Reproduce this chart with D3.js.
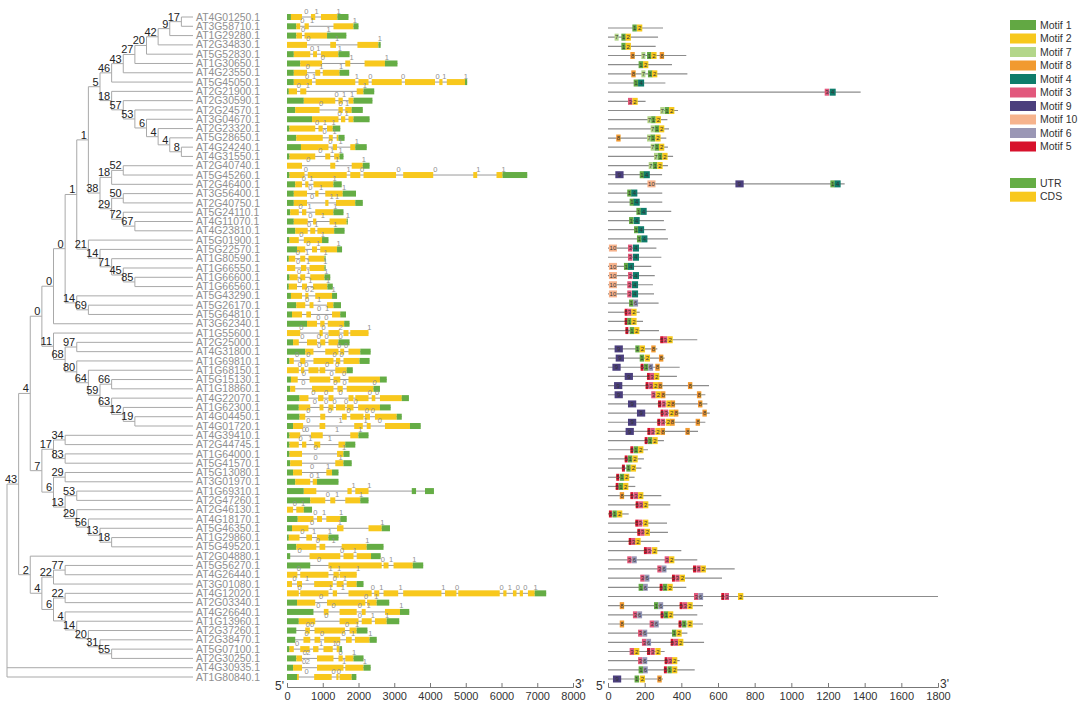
<!DOCTYPE html>
<html><head><meta charset="utf-8">
<script src="https://cdn.jsdelivr.net/npm/d3@7"></script>
<style>body{margin:0;background:#fff}svg{display:block}text{font-family:Arial,"Liberation Sans",sans-serif}</style>
</head><body><svg id="c" width="1080" height="717"></svg>
<script>
// ---------- DATA ----------
const geneIds = ["AT4G01250.1","AT3G58710.1","AT1G29280.1","AT2G34830.1","AT5G52830.1","AT1G30650.1","AT4G23550.1","AT5G45050.1","AT2G21900.1","AT2G30590.1","AT2G24570.1","AT3G04670.1","AT2G23320.1","AT5G28650.1","AT4G24240.1","AT4G31550.1","AT2G40740.1","AT5G45260.1","AT2G46400.1","AT3G56400.1","AT2G40750.1","AT5G24110.1","AT4G11070.1","AT4G23810.1","AT5G01900.1","AT5G22570.1","AT1G80590.1","AT1G66550.1","AT1G66600.1","AT1G66560.1","AT5G43290.1","AT5G26170.1","AT5G64810.1","AT3G62340.1","AT1G55600.1","AT2G25000.1","AT4G31800.1","AT1G69810.1","AT1G68150.1","AT5G15130.1","AT1G18860.1","AT4G22070.1","AT1G62300.1","AT4G04450.1","AT4G01720.1","AT4G39410.1","AT2G44745.1","AT1G64000.1","AT5G41570.1","AT5G13080.1","AT3G01970.1","AT1G69310.1","AT2G47260.1","AT2G46130.1","AT4G18170.1","AT5G46350.1","AT1G29860.1","AT5G49520.1","AT2G04880.1","AT5G56270.1","AT4G26440.1","AT3G01080.1","AT4G12020.1","AT2G03340.1","AT4G26640.1","AT1G13960.1","AT2G37260.1","AT2G38470.1","AT5G07100.1","AT2G30250.1","AT4G30935.1","AT1G80840.1"];

// internal nodes: [id, bootstrap, children]
const treeNodes = [
 ["n17","17",["AT4G01250.1","AT3G58710.1"]],
 ["n9","9",["n17","AT1G29280.1"]],
 ["n42","42",["n9","AT2G34830.1"]],
 ["n20","20",["n42","AT5G52830.1"]],
 ["n27","27",["n20","AT1G30650.1"]],
 ["n43b","43",["n27","AT4G23550.1"]],
 ["n46","46",["n43b","AT5G45050.1"]],
 ["n8","8",["AT4G24240.1","AT4G31550.1"]],
 ["n4b","4",["AT5G28650.1","n8"]],
 ["n4a","4",["AT2G23320.1","n4b"]],
 ["n6","6",["AT3G04670.1","n4a"]],
 ["n53","53",["AT2G24570.1","n6"]],
 ["n57","57",["AT2G30590.1","n53"]],
 ["n18a","18",["AT2G21900.1","n57"]],
 ["n5","5",["n46","n18a"]],
 ["n52","52",["AT2G40740.1","AT5G45260.1"]],
 ["n18b","18",["n52","AT2G46400.1"]],
 ["n50","50",["AT3G56400.1","AT2G40750.1"]],
 ["n67","67",["AT4G11070.1","AT4G23810.1"]],
 ["n72","72",["AT5G24110.1","n67"]],
 ["n29","29",["n50","n72"]],
 ["n38","38",["n18b","n29"]],
 ["n1a","1",["n5","n38"]],
 ["n85","85",["AT1G66600.1","AT1G66560.1"]],
 ["n45","45",["AT1G66550.1","n85"]],
 ["n71","71",["AT1G80590.1","n45"]],
 ["n14d","14",["AT5G22570.1","n71"]],
 ["n21","21",["AT5G01900.1","n14d"]],
 ["n1b","1",["n1a","n21"]],
 ["n69","69",["AT5G26170.1","AT5G64810.1"]],
 ["n14c","14",["AT5G43290.1","n69"]],
 ["n0c","0",["n1b","n14c"]],
 ["n0b","0",["n0c","AT3G62340.1"]],
 ["n97","97",["AT2G25000.1","AT4G31800.1"]],
 ["n19","19",["AT4G04450.1","AT4G01720.1"]],
 ["n12","12",["AT1G62300.1","n19"]],
 ["n63","63",["AT4G22070.1","n12"]],
 ["n66","66",["AT5G15130.1","AT1G18860.1"]],
 ["n59","59",["n66","n63"]],
 ["n64","64",["AT1G68150.1","n59"]],
 ["n80","80",["AT1G69810.1","n64"]],
 ["n68","68",["n97","n80"]],
 ["n11","11",["AT1G55600.1","n68"]],
 ["n0a","0",["n0b","n11"]],
 ["n34","34",["AT4G39410.1","AT2G44745.1"]],
 ["n83","83",["AT1G64000.1","AT5G41570.1"]],
 ["n17b","17",["n34","n83"]],
 ["n29b","29",["AT5G13080.1","AT3G01970.1"]],
 ["n53b","53",["AT1G69310.1","AT2G47260.1"]],
 ["n18c","18",["AT1G29860.1","AT5G49520.1"]],
 ["n13c","13",["AT5G46350.1","n18c"]],
 ["n56","56",["AT4G18170.1","n13c"]],
 ["n29c","29",["AT2G46130.1","n56"]],
 ["n13b","13",["n53b","n29c"]],
 ["n6b","6",["n29b","n13b"]],
 ["n7","7",["n17b","n6b"]],
 ["n4","4",["n0a","n7"]],
 ["n77","77",["AT5G56270.1","AT4G26440.1"]],
 ["n22a","22",["n77","AT3G01080.1"]],
 ["n22b","22",["AT4G12020.1","AT2G03340.1"]],
 ["n55","55",["AT5G07100.1","AT2G30250.1"]],
 ["n31","31",["AT2G38470.1","n55"]],
 ["n20b","20",["AT2G37260.1","n31"]],
 ["n14e","14",["AT1G13960.1","n20b"]],
 ["n4d","4",["AT4G26640.1","n14e"]],
 ["n6c","6",["n22b","n4d"]],
 ["n4c","4",["n22a","n6c"]],
 ["n2","2",["AT2G04880.1","n4c"]],
 ["n43","43",["n4","n2"]],
 ["root","",["n43","AT4G30935.1","AT1G80840.1"]]
];

// gene structure segments [start bp, end bp, kind] (U = UTR, C = CDS)
const geneSegments = [
 [[0,110,"U"],[110,420,"C"],[670,790,"C"],[950,1410,"C"],[1410,1720,"U"]],
 [[0,260,"U"],[260,370,"C"],[490,610,"C"],[1300,1860,"C"],[1860,2000,"U"]],
 [[0,260,"U"],[260,420,"C"],[490,1120,"C"],[1120,1660,"U"]],
 [[0,560,"C"],[1210,1370,"C"],[1970,2560,"C"],[2560,2620,"U"]],
 [[0,190,"U"],[190,650,"C"],[730,840,"C"],[950,1440,"C"],[1440,1750,"U"]],
 [[0,370,"U"],[370,980,"C"],[1630,1770,"C"],[2170,2740,"C"],[2740,3090,"U"]],
 [[0,190,"U"],[190,560,"C"],[790,930,"C"],[1000,1470,"C"],[1470,1740,"U"]],
 [[0,190,"U"],[190,700,"C"],[800,1910,"C"],[2000,2280,"C"],[2370,3210,"C"],[3300,4140,"C"],[4260,4350,"C"],[4470,4980,"C"],[4980,5040,"U"]],
 [[0,50,"U"],[50,280,"C"],[370,540,"C"],[1950,2140,"C"],[2140,2440,"U"]],
 [[0,470,"U"],[470,1350,"C"],[1440,1560,"C"],[1720,1860,"C"],[1860,2390,"U"]],
 [[0,230,"U"],[230,910,"C"],[1440,1560,"C"],[1630,1810,"C"],[1810,2120,"U"]],
 [[0,700,"U"],[700,1440,"C"],[1510,1630,"C"],[1720,1860,"C"],[1860,2310,"U"]],
 [[0,70,"U"],[70,790,"C"],[880,1000,"C"],[1120,1280,"C"],[1280,1490,"U"]],
 [[0,260,"U"],[260,1000,"C"],[1170,1280,"C"],[1390,1440,"C"],[1440,1610,"U"]],
 [[0,390,"U"],[390,1160,"C"],[1280,1400,"C"],[1770,1910,"C"],[1910,2230,"U"]],
 [[0,70,"U"],[70,790,"C"],[1070,1210,"C"],[1320,1470,"C"],[1470,1580,"U"]],
 [[0,420,"C"],[1210,1350,"C"],[1810,2120,"C"],[2120,2310,"U"]],
 [[0,70,"U"],[70,490,"C"],[580,1670,"C"],[1770,2050,"C"],[2140,3050,"C"],[3250,4090,"C"],[5210,5320,"C"],[5860,6030,"C"],[6030,6720,"U"]],
 [[0,230,"U"],[230,420,"C"],[510,600,"C"],[740,1300,"C"],[1300,1530,"U"]],
 [[0,190,"U"],[190,560,"C"],[790,880,"C"],[1070,1560,"C"],[1560,1930,"U"]],
 [[0,190,"U"],[190,560,"C"],[1070,1160,"C"],[1370,1910,"C"],[1910,2120,"U"]],
 [[0,90,"U"],[90,330,"C"],[420,540,"C"],[790,1300,"C"],[1300,1580,"U"]],
 [[0,190,"U"],[190,580,"C"],[730,820,"C"],[1190,1670,"C"],[1670,1700,"U"]],
 [[0,230,"U"],[230,580,"C"],[650,790,"C"],[850,1320,"C"],[1320,1610,"U"]],
 [[0,70,"U"],[70,330,"C"],[470,980,"C"],[980,1160,"U"]],
 [[0,280,"U"],[280,510,"C"],[700,840,"C"],[930,1400,"C"],[1400,1540,"U"]],
 [[0,50,"U"],[50,230,"C"],[370,510,"C"],[600,1050,"C"],[1050,1080,"U"]],
 [[0,230,"C"],[390,540,"C"],[630,1050,"C"],[1050,1080,"U"]],
 [[0,70,"U"],[70,300,"C"],[370,510,"C"],[650,1050,"C"],[1050,1210,"U"]],
 [[0,50,"U"],[50,280,"C"],[420,560,"C"],[730,1130,"C"],[1130,1280,"U"]],
 [[0,110,"U"],[110,420,"C"],[510,600,"C"],[790,1260,"C"],[1260,1400,"U"]],
 [[0,260,"U"],[260,510,"C"],[630,740,"C"],[1120,1300,"C"],[1300,1510,"U"]],
 [[0,140,"U"],[140,420,"C"],[540,670,"C"],[1260,1490,"C"],[1490,1650,"U"]],
 [[0,560,"U"],[560,840,"C"],[930,1050,"C"],[1140,1600,"C"],[1600,1750,"U"]],
 [[0,370,"C"],[910,1000,"C"],[1160,1470,"C"],[1580,1720,"C"],[1770,2280,"C"]],
 [[0,170,"U"],[170,330,"C"],[560,840,"C"],[930,1070,"C"],[1160,1440,"C"],[1440,1750,"U"]],
 [[0,510,"U"],[510,740,"C"],[1070,1440,"C"],[1490,1600,"C"],[1720,2050,"C"],[2050,2340,"U"]],
 [[0,70,"U"],[70,190,"C"],[370,510,"C"],[740,1300,"C"],[1370,1490,"C"],[1580,2030,"C"],[2030,2310,"U"]],
 [[0,330,"C"],[390,480,"C"],[600,880,"C"],[910,1070,"C"],[1350,1670,"C"],[1670,1840,"U"]],
 [[0,110,"U"],[110,300,"C"],[630,1210,"C"],[1300,1490,"C"],[1720,2600,"C"],[2600,2790,"U"]],
 [[0,90,"U"],[90,230,"C"],[700,1300,"C"],[1410,1560,"C"],[1670,2420,"C"],[2420,2600,"U"]],
 [[0,350,"U"],[350,600,"C"],[870,1020,"C"],[1160,1300,"C"],[1720,1860,"C"],[1910,2280,"C"],[2370,2470,"C"],[2600,3210,"C"],[3210,3410,"U"]],
 [[0,330,"U"],[330,650,"C"],[910,1020,"C"],[1160,1300,"C"],[1370,1630,"C"],[1670,1860,"C"],[1990,2600,"C"],[2600,2900,"U"]],
 [[0,350,"U"],[350,510,"C"],[930,1070,"C"],[1540,1670,"C"],[1770,2140,"C"],[2180,2320,"C"],[2460,3070,"C"],[3070,3210,"U"]],
 [[0,170,"U"],[170,450,"C"],[910,1070,"C"],[1880,2120,"C"],[2230,2340,"C"],[2740,3440,"C"],[3440,3740,"U"]],
 [[0,70,"U"],[70,370,"C"],[670,1000,"C"],[1770,2000,"C"],[2000,2280,"U"]],
 [[0,70,"U"],[70,330,"C"],[420,540,"C"],[760,930,"C"],[1440,1630,"C"],[1630,1910,"U"]],
 [[0,70,"U"],[70,420,"C"],[1400,1580,"C"],[1580,1750,"U"]],
 [[0,90,"U"],[90,420,"C"],[1350,1580,"C"],[1580,1810,"U"]],
 [[0,170,"U"],[170,420,"C"],[1100,1260,"C"],[1260,1440,"U"]],
 [[0,230,"U"],[230,650,"C"],[720,840,"C"],[840,1440,"U"]],
 [[0,470,"U"],[470,820,"C"],[1690,1810,"C"],[1910,2280,"C"],[3490,3610,"U"],[3860,4110,"U"]],
 [[0,650,"U"],[650,1070,"C"],[1210,1350,"C"],[1630,2050,"C"],[2050,2280,"U"]],
 [[0,170,"C"],[260,470,"C"],[470,700,"U"]],
 [[0,300,"U"],[300,740,"C"],[840,980,"C"],[1100,1490,"C"],[1490,1670,"U"]],
 [[0,140,"U"],[140,600,"C"],[1400,1580,"C"],[2280,2650,"C"],[2650,2880,"U"]],
 [[0,50,"U"],[50,350,"C"],[540,700,"C"],[840,1160,"C"],[1160,1440,"U"]],
 [[0,260,"U"],[260,820,"C"],[910,1070,"C"],[1530,2230,"C"],[2230,2700,"U"]],
 [[0,90,"U"],[630,1490,"C"],[1580,1860,"C"],[1950,2350,"C"],[2350,2620,"U"]],
 [[0,650,"U"],[1160,2650,"C"],[2700,2840,"C"],[2980,3520,"C"],[3520,3810,"U"]],
 [[0,290,"C"],[370,1160,"C"],[1300,1450,"C"],[1470,1950,"C"]],
 [[0,140,"C"],[280,420,"C"],[760,1280,"C"],[1390,1580,"C"],[1670,1950,"C"],[1950,2140,"U"]],
 [[0,330,"C"],[370,1160,"C"],[1280,1400,"C"],[1720,2370,"C"],[2440,2580,"C"],[2700,3110,"C"],[3250,4320,"C"],[4420,4740,"C"],[4790,5950,"C"],[6050,6140,"C"],[6320,6420,"C"],[6510,6600,"C"],[6740,6930,"C"],[6930,7250,"U"]],
 [[0,280,"U"],[280,790,"C"],[1120,2190,"C"],[2240,2510,"C"],[2510,2860,"U"]],
 [[0,740,"U"],[1030,1160,"C"],[1470,1950,"C"],[2090,2200,"C"],[2740,3160,"C"],[3160,3420,"U"]],
 [[0,330,"U"],[330,790,"C"],[1470,2000,"C"],[2090,2370,"C"],[2460,2790,"C"],[2790,3140,"U"]],
 [[0,260,"U"],[510,640,"C"],[770,1620,"C"],[1750,1950,"C"],[1950,2250,"U"]],
 [[0,230,"U"],[460,650,"C"],[770,930,"C"],[1040,1490,"C"],[1650,1810,"C"],[1900,2310,"C"],[2310,2510,"U"]],
 [[0,70,"U"],[70,190,"C"],[370,630,"C"],[730,880,"C"],[1020,1280,"C"],[1390,1470,"C"],[1470,1540,"U"]],
 [[0,260,"U"],[260,420,"C"],[840,1300,"C"],[1440,1560,"C"],[1630,1860,"C"],[1860,2140,"U"]],
 [[0,170,"U"],[170,420,"C"],[840,1580,"C"],[1630,2140,"C"],[2140,2340,"U"]],
 [[0,280,"U"],[280,330,"C"],[760,1250,"C"],[1380,1440,"C"],[1470,1810,"C"],[1810,1940,"U"]]
];

// intron phase labels [position bp, phase]
const intronPhases = [
 [[540,0],[830,1],[1440,1]],
 [[430,0],[700,1],[1900,1]],
 [[450,0],[1160,1]],
 [[600,0],[1400,1],[2600,1]],
 [[700,0],[880,1],[1480,1]],
 [[1000,0],[1810,1],[2790,1]],
 [[580,0],[960,1],[1510,1]],
 [[560,0],[760,1],[1950,1],[2330,0],[3250,0],[4210,0],[4400,1],[5000,1]],
 [[330,0],[580,1],[2180,1]],
 [[1390,0],[1600,1],[1820,1]],
 [[950,0],[1500,0],[1680,1]],
 [[1470,0],[1670,1]],
 [[840,0],[1060,1],[1300,1]],
 [[1050,0],[1330,1]],
 [[1210,0],[1500,1],[1950,1]],
 [[930,0],[1260,1],[1500,1]],
 [[600,0],[1400,1],[2150,1]],
 [[530,0],[1720,1],[2100,0],[3120,0],[4150,0],[5350,1],[6060,1]],
 [[470,0],[680,1],[1330,1]],
 [[650,0],[950,1],[1600,1]],
 [[700,0],[1250,1],[1400,1]],
 [[380,0],[630,1],[1350,1]],
 [[650,0],[1000,1],[1700,1]],
 [[620,0],[820,1],[1350,1]],
 [[400,0],[1000,1]],
 [[600,0],[880,1],[1440,1]],
 [[300,0],[560,1],[1080,1]],
 [[310,0],[590,1],[1070,1]],
 [[340,0],[600,1],[1100,1]],
 [[350,0],[650,1],[1150,1]],
 [[560,0],[700,2],[1300,1]],
 [[560,0],[900,1]],
 [[900,0],[1120,1]],
 [[880,0],[1100,0]],
 [[400,0],[1020,0],[1500,2],[2300,1]],
 [[430,0],[890,0],[1110,0],[1500,0]],
 [[900,0],[1460,0],[1650,0]],
 [[280,0],[600,0],[1330,0],[1530,0]],
 [[360,0],[540,0],[1120,0],[1400,0]],
 [[470,0],[1250,0],[1600,0]],
 [[460,0],[1350,0],[1610,0],[2450,0]],
 [[740,0],[1090,0],[1500,0],[2320,0],[2520,0]],
 [[780,0],[1090,0],[1330,0],[1650,0],[1920,0]],
 [[600,0],[1200,0],[1720,0],[2230,0],[2400,0]],
 [[600,0],[1500,1],[2200,1],[2600,0]],
 [[480,0],[560,0],[1400,1],[2050,1]],
 [[380,0],[650,1],[1200,1]],
 [[800,0],[1600,1]],
 [[800,0],[1500,1]],
 [[700,0],[1150,1]],
 [[690,0],[860,1]],
 [[1860,1],[2300,1]],
 [[1140,0],[1400,1],[2070,1]],
 [[220,0],[450,1]],
 [[790,0],[1040,1],[1510,1]],
 [[700,0],[1480,1],[2670,1]],
 [[430,0],[760,1],[1200,1]],
 [[860,0],[1300,1],[2250,1]],
 [[350,0],[1540,0],[1900,1]],
 [[900,0],[2680,0],[2910,1],[3560,1]],
 [[330,0],[1220,1],[1460,1],[1990,1]],
 [[210,0],[560,1],[1340,0],[1620,1]],
 [[350,0],[1220,1],[1560,1],[2400,0],[2640,1],[3180,1],[4370,1],[4760,0],[6000,0],[6230,1],[6460,0],[6670,0],[6950,1]],
 [[950,0],[2210,0],[2500,1]],
 [[880,0],[1300,0],[2040,0],[2280,1],[3200,1]],
 [[1100,0],[2040,0],[2400,1],[2800,1]],
 [[580,0],[700,0],[1680,0],[1960,1]],
 [[550,0],[980,0],[1580,0],[1850,1],[2330,1]],
 [[280,0],[950,1],[1330,1],[1430,0]],
 [[500,0],[600,2],[1500,0],[1880,1]],
 [[480,0],[580,2],[1600,1],[2180,1]],
 [[550,0],[1300,0],[1450,0]]
];

// protein lengths (aa)
const proteinLengths = [300,273,260,427,349,433,313,1378,205,382,324,333,318,327,355,327,295,1291,296,296,345,305,315,327,264,291,236,255,245,251,276,173,191,278,487,269,309,391,376,551,531,542,555,531,491,305,218,196,182,145,149,291,340,113,322,327,282,400,487,691,622,427,1800,518,487,518,433,524,309,391,473,300];

// motif hits [motif id, start aa]
const proteinMotifs = [
 [[1,133],[2,158]],
 [[7,36],[1,73],[2,96]],
 [[1,73],[2,96]],
 [[8,122],[7,182],[1,213],[2,236],[8,282]],
 [[1,167],[2,191]],
 [[8,127],[7,182],[1,218],[2,240]],
 [[1,140],[4,164]],
 [[3,1182],[4,1209]],
 [[3,109],[2,133]],
 [[7,285],[1,309],[2,333]],
 [[7,215],[1,236],[2,260]],
 [[7,233],[1,255],[2,278]],
 [[8,45],[7,213],[1,233],[2,258]],
 [[7,233],[1,255],[2,278]],
 [[7,251],[1,273],[2,296]],
 [[7,222],[1,245],[2,269]],
 [[9,40],[1,173],[4,195]],
 [[10,215],[9,695],[1,1213],[4,1236]],
 [[1,105],[4,127]],
 [[1,118],[4,140]],
 [[1,155],[4,178]],
 [[1,115],[4,140]],
 [[1,142],[4,164]],
 [[1,158],[4,182]],
 [[10,5],[3,109],[4,136]],
 [[3,109],[4,136]],
 [[10,5],[1,87],[4,109]],
 [[10,5],[3,109],[4,136]],
 [[10,5],[3,105],[4,131]],
 [[10,5],[3,105],[4,131]],
 [[1,115],[6,138]],
 [[5,91],[3,105],[2,127]],
 [[5,91],[1,105],[2,127]],
 [[5,95],[1,118],[2,142]],
 [[5,285],[3,300],[2,324]],
 [[9,36],[1,149],[2,173],[8,236]],
 [[9,42],[1,173],[2,200],[8,278]],
 [[9,24],[5,178],[1,196],[6,220],[8,258]],
 [[9,91],[5,213],[3,227],[2,251]],
 [[9,33],[5,205],[3,222],[2,245],[8,273],[8,436]],
 [[9,36],[3,236],[2,260],[8,289],[8,485]],
 [[9,109],[5,273],[3,291],[2,318],[8,342],[8,491]],
 [[9,158],[5,287],[3,305],[2,333],[8,360],[8,515]],
 [[9,109],[5,269],[3,287],[2,315],[8,340],[8,478]],
 [[9,96],[5,215],[3,231],[2,258],[8,287],[8,422]],
 [[5,200],[1,218],[2,242]],
 [[5,122],[1,140],[2,164]],
 [[5,91],[1,109],[2,133]],
 [[5,76],[1,100],[2,124]],
 [[5,45],[1,64],[2,87]],
 [[5,42],[1,58],[2,82]],
 [[8,64],[5,122],[3,140],[2,164]],
 [[5,151],[3,167],[2,191]],
 [[5,5],[1,24],[2,49]],
 [[5,149],[3,164],[2,191]],
 [[5,160],[3,176],[2,200]],
 [[5,113],[3,127],[2,149]],
 [[5,196],[3,213],[2,240]],
 [[3,105],[6,131],[3,309],[2,333]],
 [[3,269],[6,293],[5,464],[3,482],[2,505]],
 [[3,176],[6,200],[5,349],[3,367],[2,391]],
 [[1,167],[6,191],[5,282],[1,300],[2,324]],
 [[3,469],[6,493],[5,618],[3,636],[2,709]],
 [[8,64],[1,251],[6,275],[5,391],[3,409],[2,433]],
 [[3,136],[6,160],[5,287],[1,305],[2,327]],
 [[8,64],[3,227],[6,251],[5,385],[1,404],[2,433]],
 [[3,164],[6,188],[1,349],[2,373]],
 [[3,185],[6,209],[5,342],[3,360],[2,382]],
 [[3,118],[2,142],[5,213],[3,231],[2,258]],
 [[3,164],[6,188],[5,309],[3,327],[2,349]],
 [[1,167],[6,191],[5,305],[1,324],[2,349]],
 [[9,27],[1,145],[2,173],[8,269]]
];

const motifOrder  = [1,2,7,8,4,3,9,10,6,5];
const motifColors = ["#62a843","#f7c81c","#b3d68a","#f19a30","#0f7c6b","#e2587d","#4b3f7d","#f6b38d","#9a97b5","#d7112c"];
const motifWidths = [24,29,22,24,33,24,45,44,26,16];
const featureNames  = ["UTR","CDS"];
const featureColors = ["#65ad45","#f8c81d"];
const geneTicks = [0,1000,2000,3000,4000,5000,6000,7000,8000];
const proteinTicks = [0,200,400,600,800,1000,1200,1400,1600,1800];

// ---------- DRAW ----------
const svg = d3.select("#c");
const nodeMap = new Map(treeNodes.map(n => [n[0], n]));
function build(id){
  const n = nodeMap.get(id);
  return n ? {name:id, label:n[1], children:n[2].map(build)} : {name:id};
}
const root = d3.hierarchy(build("root"));
const maxDepth = d3.max(root.leaves(), d => d.depth);
const xTree = d3.scaleLinear().domain([0, maxDepth]).range([7, 193]);
const yRow = d3.scalePoint().domain(geneIds).range([17, 677]);
const yMot = d3.scalePoint().domain(geneIds).range([28, 679]);

root.eachAfter(d => {
  if (d.children) {
    d.px = xTree(d.depth);
    d.py = (d.children[0].py + d.children[d.children.length-1].py) / 2;
  } else {
    d.px = xTree(maxDepth);
    d.py = yRow(d.data.name);
  }
});

const tree = svg.append("g").attr("stroke","#a9a9a9").attr("stroke-width",1).attr("fill","none");
tree.selectAll("line.h").data(root.descendants().filter(d => d.parent)).join("line")
  .attr("x1", d => d.parent.px).attr("x2", d => d.px)
  .attr("y1", d => d.py).attr("y2", d => d.py);
tree.selectAll("line.v").data(root.descendants().filter(d => d.children)).join("line")
  .attr("x1", d => d.px).attr("x2", d => d.px)
  .attr("y1", d => d.children[0].py).attr("y2", d => d.children[d.children.length-1].py);

svg.append("g").selectAll("text").data(root.descendants().filter(d => d.children && d.data.label !== ""))
  .join("text")
  .attr("x", d => d.px - 1.5).attr("y", d => d.py - 1)
  .attr("text-anchor","end").attr("font-size", 11).attr("fill","#222")
  .text(d => d.data.label);

svg.append("g").selectAll("text").data(root.leaves()).join("text")
  .attr("x", d => d.px + 3).attr("y", d => d.py + 3.6)
  .attr("font-size", 10.4).attr("fill","#8f8f8f")
  .text(d => d.data.name);

// ---- gene structure ----
const xg = d3.scaleLinear().domain([0,8000]).range([287,573]);
const gs = svg.append("g");
geneIds.forEach((id, i) => {
  const y = yRow(id), segs = geneSegments[i];
  const row = gs.append("g");
  row.append("line").attr("x1", xg(segs[0][0])).attr("x2", xg(segs[segs.length-1][1]))
    .attr("y1", y).attr("y2", y).attr("stroke","#9a9a9a").attr("stroke-width",1);
  row.selectAll("rect").data(segs).join("rect")
    .attr("x", d => xg(d[0])).attr("width", d => Math.max(0.8, xg(d[1]) - xg(d[0])))
    .attr("y", y - 3).attr("height", 6)
    .attr("fill", d => d[2] === "U" ? featureColors[0] : featureColors[1]);
  row.selectAll("text").data(intronPhases[i]).join("text")
    .attr("x", d => xg(d[0])).attr("y", y - 3.5)
    .attr("text-anchor","middle").attr("font-size", 7.5).attr("fill","#8f8f8f")
    .text(d => d[1]);
});
const gAxis = svg.append("g").attr("transform","translate(0,687)")
  .call(d3.axisBottom(xg).tickValues(geneTicks).tickSizeInner(-4).tickSizeOuter(-4).tickPadding(5).tickFormat(d3.format("d")));
gAxis.selectAll("text").attr("font-size", 11).attr("fill","#333").attr("font-family","Arial");
gAxis.selectAll("path,line").attr("stroke","#777");
svg.append("text").attr("x", 284).attr("y", 690).attr("text-anchor","end").attr("font-size",12).attr("fill","#333").text("5'");
svg.append("text").attr("x", 575).attr("y", 688).attr("font-size",12).attr("fill","#333").text("3'");

// ---- motifs ----
const xm = d3.scaleLinear().domain([0,1800]).range([608,938]);
const motifIndex = new Map(motifOrder.map((m,i) => [m,i]));
const ms = svg.append("g");
geneIds.forEach((id, i) => {
  const y = yMot(id);
  const row = ms.append("g");
  row.append("line").attr("x1", xm(0)).attr("x2", xm(proteinLengths[i]))
    .attr("y1", y).attr("y2", y).attr("stroke","#8c8c8c").attr("stroke-width",1.2);
  const hits = row.selectAll("g").data(proteinMotifs[i]).join("g");
  hits.append("rect")
    .attr("x", d => xm(d[1])).attr("y", y - 3.5).attr("height", 7)
    .attr("width", d => xm(motifWidths[motifIndex.get(d[0])]) - xm(0))
    .attr("fill", d => motifColors[motifIndex.get(d[0])]);
  hits.append("text")
    .attr("x", d => xm(d[1]) + (xm(motifWidths[motifIndex.get(d[0])]) - xm(0)) / 2)
    .attr("y", y + 2.2).attr("text-anchor","middle").attr("font-size", 6)
    .attr("fill", "#333").text(d => d[0]);
});
const mAxis = svg.append("g").attr("transform","translate(0,687)")
  .call(d3.axisBottom(xm).tickValues(proteinTicks).tickSizeInner(-4).tickSizeOuter(-4).tickPadding(5).tickFormat(d3.format("d")));
mAxis.selectAll("text").attr("font-size", 11).attr("fill","#333").attr("font-family","Arial");
mAxis.selectAll("path,line").attr("stroke","#777");
svg.append("text").attr("x", 605).attr("y", 690).attr("text-anchor","end").attr("font-size",12).attr("fill","#333").text("5'");
svg.append("text").attr("x", 940).attr("y", 688).attr("font-size",12).attr("fill","#333").text("3'");

// ---- legend ----
const lg = svg.append("g");
const lgItems = lg.selectAll("g").data(motifOrder).join("g")
  .attr("transform", (d,i) => `translate(1010,${20 + i*13.5})`);
lgItems.append("rect").attr("width", 26).attr("height", 10).attr("fill", (d,i) => motifColors[i]);
lgItems.append("text").attr("x", 30).attr("y", 8.5).attr("font-size", 10.5).attr("fill","#333").text(d => "Motif " + d);
const fItems = lg.selectAll("g.f").data(featureNames).join("g").attr("class","f")
  .attr("transform", (d,i) => `translate(1010,${178 + i*13.7})`);
fItems.append("rect").attr("width", 26).attr("height", 10).attr("fill", (d,i) => featureColors[i]);
fItems.append("text").attr("x", 30).attr("y", 8.5).attr("font-size", 10.5).attr("fill","#333").text(d => d);
</script></body></html>
